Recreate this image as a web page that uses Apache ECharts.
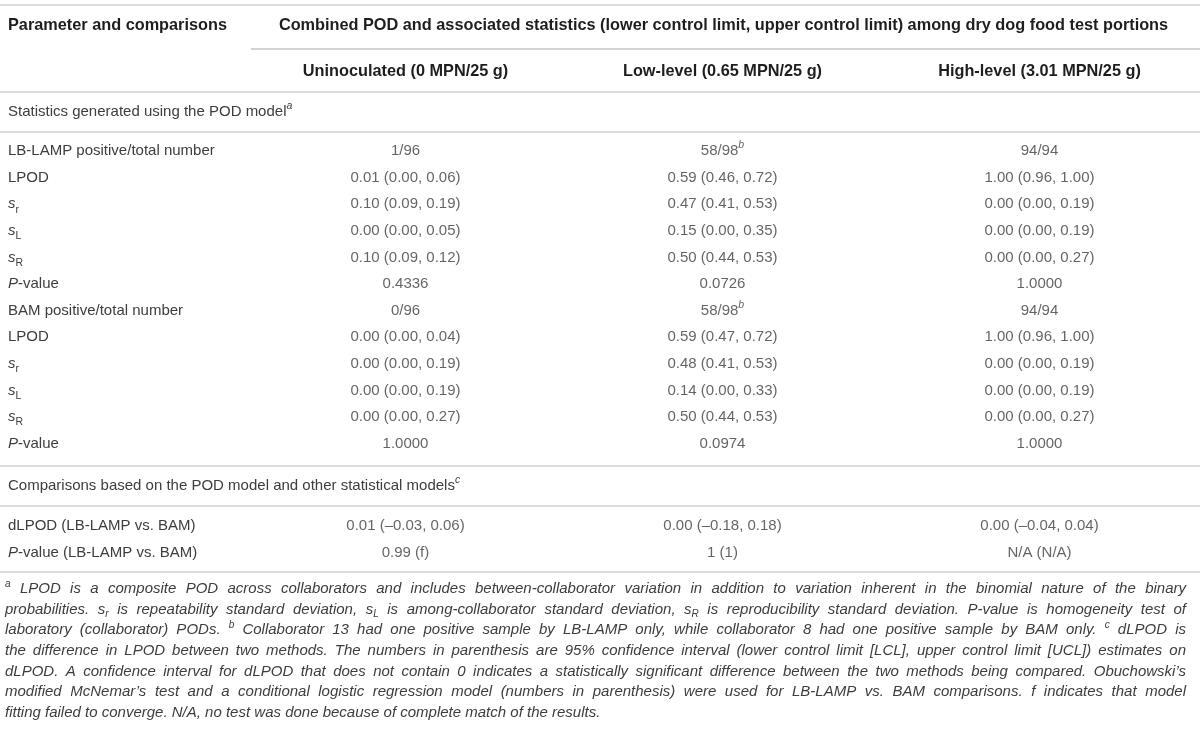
<!DOCTYPE html>
<html>
<head>
    <meta charset="utf-8">
    <title>POD statistics table</title>
    <script src="https://cdn.jsdelivr.net/npm/echarts@6/dist/echarts.min.js"></script>
    <style>
        html, body { margin: 0; padding: 0; background: #fff; }
        #main { width: 1200px; height: 730px; }
    </style>
</head>
<body>
<div id="main"></div>
<script type="text/javascript">
    // column headers (tick labels of the x axis)
    var levels = ['Uninoculated (0 MPN/25 g)', 'Low-level (0.65 MPN/25 g)', 'High-level (3.01 MPN/25 g)'];

    // POD model section: row labels and one array per column
    var podRows = ['LB-LAMP positive/total number', 'LPOD', '{i|s}{sub|r}', '{i|s}{sub|L}', '{i|s}{sub|R}', '{i|P}-value',
        'BAM positive/total number', 'LPOD', '{i|s}{sub|r}', '{i|s}{sub|L}', '{i|s}{sub|R}', '{i|P}-value'];
    var podUninoc = ['1/96', '0.01 (0.00, 0.06)', '0.10 (0.09, 0.19)', '0.00 (0.00, 0.05)', '0.10 (0.09, 0.12)', '0.4336',
        '0/96', '0.00 (0.00, 0.04)', '0.00 (0.00, 0.19)', '0.00 (0.00, 0.19)', '0.00 (0.00, 0.27)', '1.0000'];
    var podLow = ['58/98{sup|b}', '0.59 (0.46, 0.72)', '0.47 (0.41, 0.53)', '0.15 (0.00, 0.35)', '0.50 (0.44, 0.53)', '0.0726',
        '58/98{sup|b}', '0.59 (0.47, 0.72)', '0.48 (0.41, 0.53)', '0.14 (0.00, 0.33)', '0.50 (0.44, 0.53)', '0.0974'];
    var podHigh = ['94/94', '1.00 (0.96, 1.00)', '0.00 (0.00, 0.19)', '0.00 (0.00, 0.19)', '0.00 (0.00, 0.27)', '1.0000',
        '94/94', '1.00 (0.96, 1.00)', '0.00 (0.00, 0.19)', '0.00 (0.00, 0.19)', '0.00 (0.00, 0.27)', '1.0000'];

    // comparison section
    var cmpRows = ['dLPOD (LB-LAMP vs. BAM)', '{i|P}-value (LB-LAMP vs. BAM)'];
    var cmpUninoc = ['0.01 (\u20130.03, 0.06)', '0.99 (f)'];
    var cmpLow = ['0.00 (\u20130.18, 0.18)', '1 (1)'];
    var cmpHigh = ['0.00 (\u20130.04, 0.04)', 'N/A (N/A)'];

    // header and section titles
    var headLeft = 'Parameter and comparisons';
    var headSpan = 'Combined POD and associated statistics (lower control limit, upper control limit) among dry dog food test portions';
    var section1 = 'Statistics generated using the POD model{sup|a}';
    var section2 = 'Comparisons based on the POD model and other statistical models{sup|c}';

    // footnote, one string per printed line
    var footnote = [
        '{fsup|a} LPOD is a composite POD across collaborators and includes between-collaborator variation in addition to variation inherent in the binomial nature of the binary',
        'probabilities. s{fsub|r} is repeatability standard deviation, s{fsub|L} is among-collaborator standard deviation, s{fsub|R} is reproducibility standard deviation. P-value is homogeneity test of',
        'laboratory (collaborator) PODs. {fsup|b} Collaborator 13 had one positive sample by LB-LAMP only, while collaborator 8 had one positive sample by BAM only. {fsup|c} dLPOD is',
        'the difference in LPOD between two methods. The numbers in parenthesis are 95% confidence interval (lower control limit [LCL], upper control limit [UCL]) estimates on',
        'dLPOD. A confidence interval for dLPOD that does not contain 0 indicates a statistically significant difference between the two methods being compared. Obuchowski\u2019s',
        'modified McNemar\u2019s test and a conditional logistic regression model (numbers in parenthesis) were used for LB-LAMP vs. BAM comparisons. f indicates that model',
        'fitting failed to converge. N/A, no test was done because of complete match of the results.'
    ];

    // ---- layout ----
    var W = 1200;
    var COL_LEFT = 247;          // width of the parameter column
    var ROW = 26.6;              // row pitch
    var TXT = 8;                 // left text inset
    var yTopRule = 5, yHead = 26, yPartRule = 49, ySub = 72, yRule1 = 92, ySec1 = 112, yRule2 = 132;
    var gridATop = 151 - ROW / 2;
    var gridBTop = 526 - ROW / 2;
    var yRule3 = 466, ySec2 = 486, yRule4 = 506, yRule5 = 572;
    var yFoot = 589, FOOT_LH = 20.6, FOOT_X = 5, FOOT_W = 1181;

    var FONT = 'Liberation Sans';
    var TEXT_C = '#3d3d3d';
    var HEAD_C = '#1e1e1e';
    var BODY_FS = 15;

    function st(extra) {
        var o = {fontFamily: FONT, fontWeight: 'normal', fontSize: BODY_FS, color: TEXT_C};
        for (var k in extra) o[k] = extra[k];
        return o;
    }
    // rich styles for echarts labels
    var bodyRich = {
        i: st({fontStyle: 'italic'}),
        sub: st({fontSize: 10.5, verticalAlign: 'bottom'}),
        sup: st({fontSize: 10.5, fontStyle: 'italic', verticalAlign: 'top'})
    };
    // rich styles for zrender graphic texts (fill instead of color)
    function gs(extra) {
        var o = {fontFamily: FONT, fontWeight: 'normal', fontSize: BODY_FS, fill: TEXT_C};
        for (var k in extra) o[k] = extra[k];
        return o;
    }
    var secRich = {sup: gs({fontSize: 10.5, fontStyle: 'italic', verticalAlign: 'top'})};

    var footBase = gs({fontSize: 15, fontStyle: 'italic'});
    var footRich = {
        fsup: gs({fontSize: 10, fontStyle: 'italic', verticalAlign: 'top'}),
        fsub: gs({fontSize: 10, fontStyle: 'italic', verticalAlign: 'bottom'})
    };

    // measuring for the justified footnote
    var ctx = document.createElement('canvas').getContext('2d');
    function fontStr(s) {
        return (s.fontStyle || 'normal') + ' ' + (s.fontWeight || 'normal') + ' ' + s.fontSize + 'px "' + s.fontFamily + '"';
    }
    function measure(markup) {
        var w = 0, re = /\{(\w+)\|([^}]*)\}|([^{]+)/g, m;
        while ((m = re.exec(markup))) {
            var s = m[1] ? footRich[m[1]] : footBase;
            ctx.font = fontStr(s);
            w += ctx.measureText(m[1] ? m[2] : m[3]).width;
        }
        return w;
    }

    var graphics = [];
    function rule(y, x1, color, lw) {
        graphics.push({type: 'line', silent: true,
            shape: {x1: x1, y1: y, x2: W, y2: y},
            style: {stroke: color, lineWidth: lw}});
    }
    function text(x, y, str, style, align, rich) {
        var s = {text: str, x: 0, y: 0, align: align || 'left', verticalAlign: 'middle', lineHeight: 22};
        for (var k in style) s[k] = style[k];
        if (rich) s.rich = rich;
        graphics.push({type: 'text', silent: true, x: x, y: y, style: s});
    }

    rule(yTopRule, 0, '#dcdcdc', 2);
    rule(yPartRule, COL_LEFT + 4, '#a8a8a8', 1.2);
    rule(yRule1, 0, '#dcdcdc', 2);
    rule(yRule2, 0, '#dcdcdc', 2);
    rule(yRule3, 0, '#dcdcdc', 2);
    rule(yRule4, 0, '#dcdcdc', 2);
    rule(yRule5, 0, '#dcdcdc', 2);

    var headStyle = gs({fontWeight: 'bold', fontSize: 16.3, fill: HEAD_C});
    text(TXT, yHead, headLeft, headStyle);
    text(COL_LEFT + (W - COL_LEFT) / 2, yHead, headSpan, headStyle, 'center');
    text(TXT, ySec1, section1, gs({}), 'left', secRich);
    text(TXT, ySec2, section2, gs({}), 'left', secRich);

    footnote.forEach(function (line, i) {
        var words = line.split(' ');
        var wordsW = 0;
        words.forEach(function (w) { wordsW += measure(w); });
        var gap;
        if (i < footnote.length - 1) {
            gap = (FOOT_W - wordsW) / (words.length - 1);
        } else {
            ctx.font = fontStr(footBase);
            gap = ctx.measureText(' ').width;
        }
        var rich = {sp: gs({fontSize: 15, fontStyle: 'italic', width: gap})};
        for (var k in footRich) rich[k] = footRich[k];
        var s = {text: words.join('{sp|\u00a0}'), x: 0, y: 0, align: 'left', verticalAlign: 'middle',
            lineHeight: 20, rich: rich};
        for (var k2 in footBase) s[k2] = footBase[k2];
        graphics.push({type: 'text', silent: true, x: FOOT_X, y: yFoot + i * FOOT_LH, style: s});
    });

    function colSeries(gridIdx, col, texts) {
        return {
            type: 'scatter',
            xAxisIndex: gridIdx,
            yAxisIndex: gridIdx,
            silent: true,
            symbolSize: 1,
            itemStyle: {color: 'rgba(0,0,0,0)'},
            data: texts.map(function (t, r) { return [col, r]; }),
            label: st({
                show: true,
                position: 'inside',
                lineHeight: 22,
                rich: bodyRich,
                formatter: function (p) { return texts[p.dataIndex]; }
            })
        };
    }

    function yAxisFor(gridIdx, rows) {
        return {
            type: 'category',
            gridIndex: gridIdx,
            data: rows,
            inverse: true,
            axisLine: {show: false},
            axisTick: {show: false},
            splitLine: {show: false},
            axisLabel: st({
                interval: 0,
                align: 'left',
                margin: COL_LEFT - TXT,
                lineHeight: 22,
                rich: bodyRich
            })
        };
    }

    var chart = echarts.init(document.getElementById('main'));
    var option = {
        animation: false,
        backgroundColor: '#ffffff',
        grid: [
            {left: COL_LEFT, width: W - COL_LEFT - 2, top: gridATop, height: ROW * podRows.length},
            {left: COL_LEFT, width: W - COL_LEFT - 2, top: gridBTop, height: ROW * cmpRows.length}
        ],
        xAxis: [
            {
                type: 'category',
                gridIndex: 0,
                data: levels,
                position: 'top',
                axisLine: {show: false},
                axisTick: {show: false},
                splitLine: {show: false},
                axisLabel: {
                    interval: 0,
                    margin: gridATop - ySub,
                    verticalAlign: 'middle',
                    fontFamily: FONT,
                    fontWeight: 'bold',
                    fontSize: 16.3,
                    color: HEAD_C
                }
            },
            {
                type: 'category',
                gridIndex: 1,
                data: levels,
                show: false
            }
        ],
        yAxis: [yAxisFor(0, podRows), yAxisFor(1, cmpRows)],
        series: [
            colSeries(0, 0, podUninoc),
            colSeries(0, 1, podLow),
            colSeries(0, 2, podHigh),
            colSeries(1, 0, cmpUninoc),
            colSeries(1, 1, cmpLow),
            colSeries(1, 2, cmpHigh)
        ],
        graphic: graphics
    };
    chart.setOption(option);
</script>
</body>
</html>
